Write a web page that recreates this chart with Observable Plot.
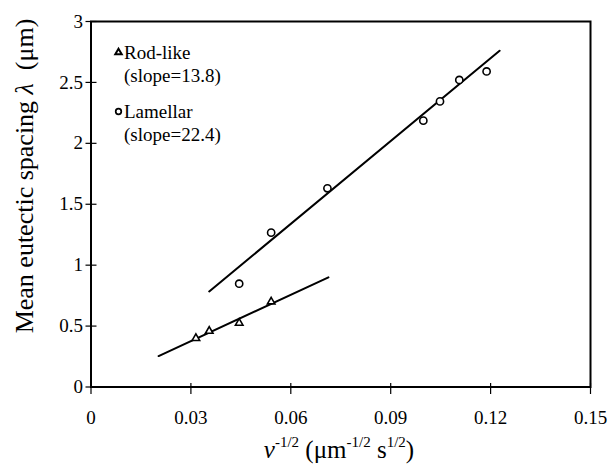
<!DOCTYPE html>
<html>
<head>
<meta charset="utf-8">
<script src="https://cdn.jsdelivr.net/npm/d3@7"></script>
<script src="https://cdn.jsdelivr.net/npm/@observablehq/plot@0.6"></script>
</head>
<body style="margin:0;background:white">
<div id="chart"></div>
<script>
const xTicks = [0, 0.03, 0.06, 0.09, 0.12, 0.15];
const yTicks = [0, 0.5, 1, 1.5, 2, 2.5, 3];

const rodX = [0.0315, 0.0355, 0.0445, 0.0541];
const rodY = [0.40, 0.459, 0.525, 0.70];
const lamX = [0.0445, 0.0541, 0.0710, 0.0998, 0.1048, 0.1106, 0.1188];
const lamY = [0.848, 1.267, 1.631, 2.186, 2.344, 2.52, 2.59];

const rodFitX = [0.0203, 0.0713];
const rodFitY = [0.254, 0.90];
const lamFitX = [0.0355, 0.1227];
const lamFitY = [0.784, 2.76];

const legendNames = ["Rod-like", "Lamellar"];
const legendSlopes = ["13.8", "22.4"];

const rod = rodX.map((x, i) => ({x, y: rodY[i]}));
const lam = lamX.map((x, i) => ({x, y: lamY[i]}));
const rodFit = rodFitX.map((x, i) => ({x, y: rodFitY[i]}));
const lamFit = lamFitX.map((x, i) => ({x, y: lamFitY[i]}));
const legendText = legendNames.map((n, i) => `${n}\n(slope=${legendSlopes[i]})`);

const font = "Liberation Serif, Times New Roman, serif";

const svg = Plot.plot({
  width: 609,
  height: 466,
  marginLeft: 90.5,
  marginRight: 19,
  marginTop: 21,
  marginBottom: 79.5,
  style: {fontFamily: font, fontSize: "19px"},
  x: {domain: [0, 0.15]},
  y: {domain: [0, 3]},
  marks: [
    Plot.axisX({ticks: xTicks, tickSize: 0, tickPadding: 23, tickFormat: d => String(d), label: null, fontFamily: font}),
    Plot.axisX({ticks: xTicks, tickSize: 11, dy: -3.5, fill: "none", label: null, strokeWidth: 1.2}),
    Plot.axisY({ticks: yTicks, tickSize: 0, tickPadding: 8, tickFormat: d => String(d), label: null, fontFamily: font}),
    Plot.axisY({ticks: yTicks, tickSize: 11, dx: 6, fill: "none", label: null, strokeWidth: 1.2}),
    Plot.frame({stroke: "black", strokeWidth: 2}),
    Plot.line(rodFit, {x: "x", y: "y", stroke: "black", strokeWidth: 2}),
    Plot.line(lamFit, {x: "x", y: "y", stroke: "black", strokeWidth: 2}),
    Plot.dot(rod, {x: "x", y: "y", symbol: "triangle", r: 2.8, stroke: "black", strokeWidth: 1.6, fill: "white"}),
    Plot.dot(lam, {x: "x", y: "y", symbol: "circle", r: 3.6, stroke: "black", strokeWidth: 1.6, fill: "white"}),
    Plot.dot([legendNames[0]], {frameAnchor: "top-left", dx: 27.5, dy: 31, symbol: "triangle", r: 2.4, stroke: "black", strokeWidth: 2, fill: "white"}),
    Plot.dot([legendNames[1]], {frameAnchor: "top-left", dx: 27.5, dy: 90, symbol: "circle", r: 2.8, stroke: "black", strokeWidth: 1.7, fill: "white"}),
    Plot.text([legendText[0]], {frameAnchor: "top-left", dx: 33, dy: 21.5, textAnchor: "start", lineAnchor: "top", lineHeight: 1.21, fill: "black", fontFamily: font}),
    Plot.text([legendText[1]], {frameAnchor: "top-left", dx: 33, dy: 80.5, textAnchor: "start", lineAnchor: "top", lineHeight: 1.21, fill: "black", fontFamily: font})
  ]
});

const s = d3.select(svg);
s.selectAll("text").attr("font-family", font).style("font-family", font);

// x axis title with superscripts
const xt = s.append("text")
  .attr("x", 339).attr("y", 458)
  .attr("text-anchor", "middle")
  .attr("font-family", font)
  .attr("font-size", 25)
  .attr("fill", "black");
const parts = [
  {t: "v", italic: true},
  {t: "-1/2", sup: true},
  {t: " (\u03bcm"},
  {t: "-1/2", sup: true},
  {t: " s"},
  {t: "1/2", sup: true},
  {t: ")"}
];
let raised = false;
for (const p of parts) {
  const ts = xt.append("tspan").text(p.t);
  if (p.italic) ts.attr("font-style", "italic");
  if (p.sup) {
    ts.attr("font-size", 15).attr("dy", -11);
    raised = true;
  } else if (raised) {
    ts.attr("dy", 11);
    raised = false;
  }
}
// y axis title
const yt = s.append("text")
  .attr("transform", "translate(33,176) rotate(-90)")
  .attr("text-anchor", "middle")
  .attr("font-family", font)
  .attr("font-size", 26)
  .attr("fill", "black");
yt.append("tspan").text("Mean eutectic spacing ");
yt.append("tspan").attr("font-style", "italic").text("\u03bb");
yt.append("tspan").text("\u00a0 (\u03bcm)");

document.getElementById("chart").appendChild(svg);
</script>
</body>
</html>
